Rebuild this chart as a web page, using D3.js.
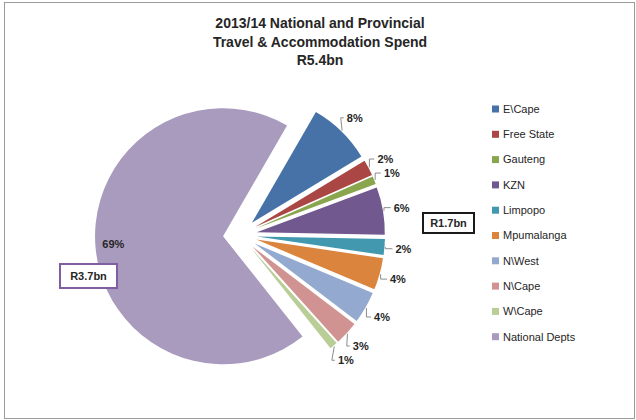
<!DOCTYPE html>
<html lang="en">
<head>
<meta charset="utf-8">
<title>2013/14 Travel & Accommodation Spend</title>
<script src="https://cdn.jsdelivr.net/npm/d3@7"></script>
<style>
  body { margin: 0; background: #fff; }
  text { font-family: "Liberation Sans", Arial, sans-serif; fill: #262626; }
</style>
</head>
<body>
<script>
// data
var titleLines = ["2013/14 National and Provincial", "Travel & Accommodation Spend", "R5.4bn"];
var categories = ["E\\Cape", "Free State", "Gauteng", "KZN", "Limpopo", "Mpumalanga", "N\\West", "N\\Cape", "W\\Cape", "National Depts"];
var shares = [8, 2, 1, 6, 2, 4, 4, 3, 1, 69];
var colors = ["#4672A8", "#AA4643", "#89A54E", "#71588F", "#4198AF", "#DB843D", "#93A9CF", "#D19392", "#B9CD96", "#A99BBD"];
var callouts = ["R1.7bn", "R3.7bn"];

var w = 636, h = 420;
var cx = 240, cy = 235, r = 128, explode = 17, labelR = 164;
var startDeg = 30;

var svg = d3.select("body").append("svg")
    .attr("width", w)
    .attr("height", h);

// chart frame
svg.append("rect")
    .attr("x", 4.5).attr("y", 2.5)
    .attr("width", 630).attr("height", 416)
    .attr("fill", "none")
    .attr("stroke", "#9a9a9a");

// title
svg.selectAll("text.title")
    .data(titleLines)
    .enter().append("text")
    .attr("class", "title")
    .attr("x", 320)
    .attr("y", function(d, i) { return 28 + i * 18.5; })
    .attr("text-anchor", "middle")
    .style("font-size", "14px")
    .style("font-weight", "bold")
    .text(function(d) { return d; });

var pie = d3.pie().sort(null)
    .startAngle(startDeg * Math.PI / 180)
    .endAngle(startDeg * Math.PI / 180 + 2 * Math.PI);

var arcs = pie(shares);
var arc = d3.arc().innerRadius(0).outerRadius(r);

function dir(d) {
    var a = (d.startAngle + d.endAngle) / 2;
    return [Math.sin(a), -Math.cos(a)];
}

var g = svg.append("g").attr("transform", "translate(" + cx + "," + cy + ")");

g.selectAll("path")
    .data(arcs)
    .enter().append("path")
    .attr("d", arc)
    .attr("fill", function(d, i) { return colors[i]; })
    .attr("transform", function(d) {
        var v = dir(d);
        return "translate(" + (v[0] * explode) + "," + (v[1] * explode) + ")";
    });

// labels (provinces outside, national inside)
var fmt = function(v) { return v + "%"; };
var isBig = function(d) { return d.data > 50; };

g.selectAll("polyline")
    .data(arcs.filter(function(d) { return !isBig(d); }))
    .enter().append("polyline")
    .attr("fill", "none")
    .attr("stroke", "#8c8c8c")
    .attr("stroke-width", 1)
    .attr("points", function(d) {
        var v = dir(d);
        var p1 = [v[0] * (r + explode + 1), v[1] * (r + explode + 1)];
        var lx = v[0] * labelR, ly = v[1] * labelR;
        var p2 = [lx - 11, ly];
        var pm = [Math.min(p1[0], p2[0] - 3), ly];
        return [p1, pm, p2].map(function(p) { return p.join(","); }).join(" ");
    });

g.selectAll("text.pct")
    .data(arcs)
    .enter().append("text")
    .attr("class", "pct")
    .attr("x", function(d) {
        var v = dir(d);
        return isBig(d) ? v[0] * (explode + r - 18) : v[0] * labelR;
    })
    .attr("y", function(d) {
        var v = dir(d);
        return isBig(d) ? v[1] * (explode + r - 18) : v[1] * labelR;
    })
    .attr("text-anchor", "middle")
    .attr("dy", "0.35em")
    .style("font-size", "11px")
    .style("font-weight", "bold")
    .text(function(d) { return fmt(d.data); });

// callout boxes
var boxes = [
    { text: callouts[0], x: cx + r + explode + 38, y: cy - 22, bw: 51, bh: 20, stroke: "#1a1a1a" },
    { text: callouts[1], x: cx - r - explode - 35, y: cy + 29, bw: 57, bh: 24, stroke: "#7F5FA0" }
];
var bg = svg.selectAll("g.box").data(boxes).enter().append("g").attr("class", "box");
bg.append("rect")
    .attr("x", function(d) { return d.x; })
    .attr("y", function(d) { return d.y; })
    .attr("width", function(d) { return d.bw; })
    .attr("height", function(d) { return d.bh; })
    .attr("fill", "#fff")
    .attr("stroke", function(d) { return d.stroke; })
    .attr("stroke-width", 2);
bg.append("text")
    .attr("x", function(d) { return d.x + d.bw / 2; })
    .attr("y", function(d) { return d.y + d.bh / 2; })
    .attr("dy", "0.35em")
    .attr("text-anchor", "middle")
    .style("font-size", "11px")
    .style("font-weight", "bold")
    .text(function(d) { return d.text; });

// legend
var legend = svg.append("g").attr("transform", "translate(492,109)");
var rows = legend.selectAll("g")
    .data(categories)
    .enter().append("g")
    .attr("transform", function(d, i) { return "translate(0," + (i * 25.3) + ")"; });
rows.append("rect")
    .attr("x", 0).attr("y", -3.5)
    .attr("width", 7).attr("height", 7)
    .attr("fill", function(d, i) { return colors[i]; });
rows.append("text")
    .attr("x", 11)
    .attr("dy", "0.35em")
    .style("font-size", "11px")
    .text(function(d) { return d; });
</script>
</body>
</html>
